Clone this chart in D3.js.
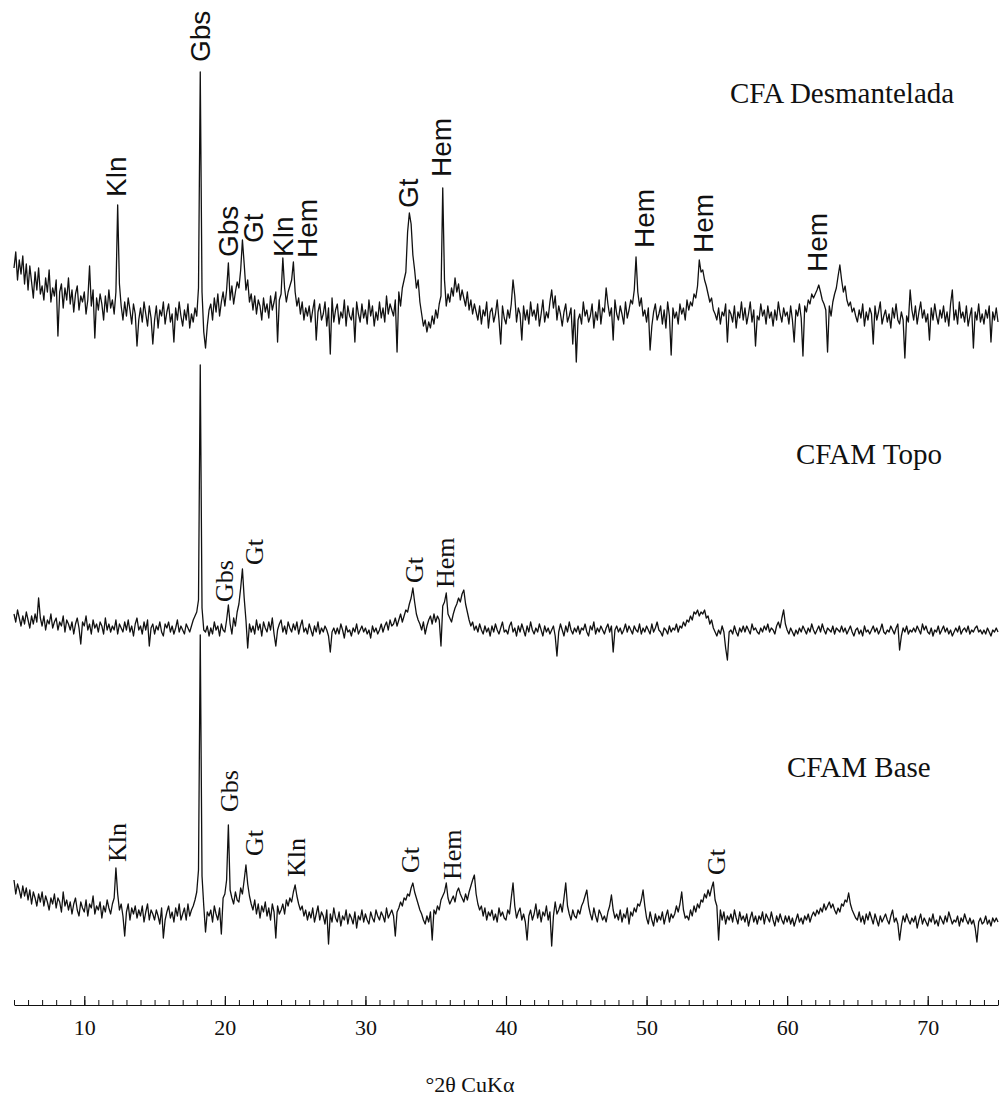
<!DOCTYPE html>
<html>
<head>
<meta charset="utf-8">
<script src="https://cdn.jsdelivr.net/npm/d3@7"></script>
<style>
  body { margin: 0; background: #fff; }
  .sans { font-family: "Liberation Sans", Arial, sans-serif; }
  .serif { font-family: "Liberation Serif", "Times New Roman", serif; }
</style>
</head>
<body>
<svg id="chart" width="1001" height="1104"></svg>
<script>
// 2θ grid (CuKα), 0.125° step from 5° to 75°
const twoTheta = d3.range(0, 561).map((i) => 5 + i * 0.125);

// intensities (a.u.) above each pattern's own zero, one row per degree (5°..74°, then 75°)
const desmantelada = [
  82, 98, 70, 90, 76, 94, 66, 86,
  60, 84, 68, 52, 78, 60, 82, 56,
  64, 50, 72, 58, 80, 48, 62, 54,
  70, 14, 58, 66, 42, 62, 50, 72,
  46, 60, 38, 56, 64, 40, 54, 48,
  58, 36, 50, 84, 44, 60, 12, 52,
  40, 56, 46, 30, 54, 38, 60, 42,
  50, 36, 58, 145, 66, 44, 30, 48,
  34, 52, 40, 26, 46, 36, 4, 30,
  42, 28, 48, 36, 24, 44, 32, 6,
  30, 44, 22, 40, 34, 48, 26, 38,
  46, 28, 36, 8, 42, 30, 48, 34,
  24, 40, 30, 46, 22, 36, 28, 42,
  34, 62, 278, 58, 18, 2, 24, 40,
  46, 30, 52, 38, 56, 34, 48, 58,
  44, 60, 87, 50, 64, 46, 58, 68,
  62, 80, 110, 86, 60, 70, 48, 56,
  40, 54, 36, 50, 44, 30, 52, 38,
  46, 32, 54, 40, 48, 58, 8, 50,
  56, 92, 62, 48, 58, 64, 70, 88,
  58, 44, 52, 36, 48, 30, 42, 34,
  44, 28, 40, 50, 10, 38, 46, 30,
  36, 48, 24, 42, -4, 52, 28, 40,
  46, 26, 38, 32, 50, 24, 44, 34,
  30, 42, 8, 48, 36, 28, 46, 32,
  40, 26, 50, 34, 44, 24, 38, 30,
  48, 32, 42, 28, 54, 36, 46, 40,
  34, 50, -2, 58, 44, 62, 70, 78,
  118, 137, 126, 95, 80, 62, 70, 48,
  36, 24, 30, 18, 28, 22, 34, 26,
  40, 32, 46, 54, 162, 70, 44, 56,
  48, 62, 54, 72, 58, 66, 50, 60,
  52, 44, 58, 40, 50, 36, 46, 38,
  30, 44, 26, 40, 34, 48, 22, 38,
  42, 28, 36, 50, 30, 6, 44, 32,
  26, 40, 32, 46, 70, 54, 28, 42,
  36, 10, 44, 30, 40, 26, 48, 34,
  40, 30, 46, 24, 36, 50, 28, 38,
  32, 48, 60, 42, 54, 30, 44, 36,
  24, 38, 46, 28, 34, 42, 6, 40,
  -12, 30, 36, 26, 48, 34, 40, 28,
  34, 46, 22, 38, 30, 50, 26, 42,
  38, 62, 46, 34, 42, 10, 50, 36,
  30, 44, 36, 26, 48, 32, 40, 50,
  46, 60, 93, 58, 44, 52, 34, 40,
  28, 42, 0, 24, 38, 46, 30, 36,
  44, 26, 40, 22, 48, 34, -5, 42,
  32, 38, 26, 46, 36, 42, 30, 50,
  40, 48, 44, 56, 52, 64, 90, 78,
  80, 70, 64, 56, 48, 52, 40, 36,
  30, 42, 26, 38, 34, 46, 8, 40,
  36, 28, 44, 22, 38, 32, 48, 30,
  42, 26, 36, 48, 28, 40, 4, 34,
  30, 46, 34, 40, 26, 44, 32, 38,
  24, 40, 30, 48, 36, 28, 42, 34,
  38, 26, 44, 30, 8, 40, 34, 46,
  32, -6, 44, 38, 50, 46, 56, 52,
  56, 60, 65, 58, 50, 46, 40, -2,
  44, 34, 48, 56, 62, 74, 85, 70,
  58, 64, 50, 44, 48, 38, 42, 34,
  28, 40, 32, 46, 24, 38, 30, 42,
  36, 6, 44, 30, 38, 48, 26, 34,
  40, 28, 36, 22, 42, 32, 46, 30,
  26, 38, 30, -8, 34, 28, 60, 40,
  30, 44, 26, 38, 48, 32, 40, 28,
  36, 10, 42, 30, 46, 34, 26, 40,
  32, 44, 28, 38, 24, 46, 60, 30,
  40, 26, 48, 32, 38, 28, 44, 24,
  34, 42, 2, 38, 30, 46, 28, 36,
  26, 40, 32, 44, 8, 38, 30, 42,
  28
];

const topo = [
  46, 38, 50, 42, 34, 44, 36, 48,
  40, 32, 44, 36, 46, 38, 62, 42,
  34, 44, 30, 40, 36, 46, 32, 38,
  42, 30, 38, 34, 44, 28, 40, 36,
  30, 38, 26, 36, 42, 32, 16, 38,
  34, 44, 30, 36, 26, 40, 32, 36,
  28, 38, 34, 26, 42, 30, 36, 28,
  34, 30, 40, 26, 36, 32, 28, 38,
  30, 40, 28, 34, 24, 36, 42, 30,
  34, 26, 38, 30, 40, 14, 32, 36,
  26, 34, 30, 38, 28, 24, 36, 32,
  38, 28, 34, 26, 32, 40, 28, 34,
  30, 26, 36, 32, 28, 34, 40, 44,
  48, 60, 295, 52, 30, 28, 34, 24,
  32, 26, 38, 30, 34, 24, 36, 30,
  28, 40, 55, 36, 26, 42, 34, 48,
  56, 72, 91, 62, 40, 12, 36, 28,
  34, 26, 40, 30, 36, 24, 38, 32,
  28, 38, 30, 42, 26, 14, 30, 36,
  40, 28, 34, 26, 38, 32, 28, 36,
  30, 38, 26, 34, 40, 28, 32, 26,
  36, 30, 24, 34, 28, 38, 26, 32,
  28, 34, 30, 24, 8, 28, 32, 26,
  32, 26, 36, 30, 22, 34, 28, 30,
  24, 32, 28, 36, 26, 30, 34, 28,
  32, 26, 30, 22, 34, 28, 32, 26,
  30, 36, 28, 34, 38, 30, 40, 34,
  36, 42, 34, 40, 46, 38, 44, 50,
  48, 56, 62, 72, 58, 46, 40, 36,
  30, 38, 26, 34, 40, 44, 36, 46,
  38, 44, 40, 14, 54, 58, 67, 46,
  42, 38, 46, 52, 56, 62, 58, 66,
  70, 56, 48, 40, 34, 38, 30, 34,
  28, 36, 30, 26, 34, 28, 32, 24,
  34, 28, 36, 30, 26, 32, 38, 28,
  30, 26, 34, 38, 28, 32, 24, 34,
  28, 36, 30, 24, 34, 28, 38, 30,
  26, 32, 28, 36, 30, 24, 34, 28,
  32, 26, 30, 34, 24, 4, 28, 36,
  30, 24, 34, 28, 38, 30, 26, 32,
  28, 34, 26, 32, 30, 36, 28, 24,
  34, 30, 38, 26, 32, 28, 34, 30,
  26, 32, 36, 28, 34, 8, 30, 34,
  28, 32, 26, 30, 36, 28, 34, 30,
  26, 34, 30, 28, 36, 26, 32, 28,
  34, 30, 26, 36, 28, 32, 38, 30,
  28, 24, 32, 30, 26, 34, 28, 32,
  30, 36, 28, 34, 32, 38, 34, 40,
  38, 44, 40, 48, 46, 50, 44, 48,
  46, 50, 42, 44, 36, 40, 32, 28,
  24, 30, 26, 34, 28, 12, 0, 28,
  30, 26, 34, 28, 24, 32, 28, 34,
  28, 34, 30, 26, 36, 30, 32, 28,
  26, 32, 28, 34, 30, 36, 28, 32,
  30, 26, 34, 38, 32, 42, 50, 36,
  30, 26, 32, 28, 24, 30, 26, 32,
  28, 34, 30, 26, 32, 28, 36, 30,
  26, 30, 34, 28, 36, 30, 26, 32,
  30, 28, 34, 26, 32, 30, 28, 34,
  28, 32, 26, 30, 34, 28, 24, 30,
  32, 26, 30, 24, 34, 28, 30, 26,
  30, 34, 28, 32, 26, 30, 36, 28,
  26, 30, 28, 34, 30, 26, 32, 36,
  10, 24, 32, 28, 34, 26, 30, 28,
  32, 28, 34, 30, 26, 36, 30, 34,
  28, 26, 32, 24, 30, 28, 34, 26,
  30, 34, 28, 32, 26, 30, 24, 28,
  32, 28, 34, 26, 30, 32, 28, 34,
  26, 30, 28, 32, 34, 28, 30, 26,
  30, 26, 32, 28, 24, 30, 28, 32,
  28
];

const base = [
  70, 56, 66, 60, 52, 64, 54, 62,
  50, 60, 46, 58, 52, 44, 56, 48,
  58, 44, 54, 48, 40, 52, 46, 56,
  42, 52, 48, 38, 58, 44, 50, 40,
  48, 36, 46, 52, 40, 34, 48, 42,
  38, 50, 34, 46, 42, 54, 36, 44,
  40, 48, 32, 44, 38, 50, 42, 36,
  46, 52, 82, 56, 40, 46, 34, 14,
  38, 46, 30, 42, 36, 44, 32, 40,
  34, 44, 28, 38, 46, 30, 40, 36,
  30, 40, 34, 26, 42, 12, 30, 38,
  44, 32, 38, 28, 42, 34, 46, 30,
  36, 42, 30, 46, 34, 40, 44, 50,
  58, 80, 315, 74, 44, 18, 38, 34,
  40, 28, 44, 36, 30, 42, 16, 52,
  56, 70, 125, 60, 52, 46, 58, 50,
  48, 62, 56, 70, 85, 66, 54, 46,
  40, 50, 36, 46, 32, 44, 38, 48,
  34, 42, 30, 46, 38, 12, 44, 36,
  40, 46, 36, 50, 44, 52, 48, 58,
  65, 54, 46, 40, 44, 34, 40, 30,
  38, 32, 42, 28, 36, 44, 30, 38,
  34, 26, 40, 6, 36, 28, 42, 32,
  28, 38, 24, 34, 30, 40, 26, 36,
  32, 26, 38, 22, 34, 30, 40, 28,
  36, 30, 26, 38, 32, 28, 40, 34,
  30, 38, 34, 28, 42, 32, 36, 40,
  34, 14, 38, 42, 48, 44, 52, 50,
  56, 54, 62, 67, 58, 52, 46, 40,
  36, 30, 26, 34, 28, 38, 10, 40,
  36, 44, 40, 50, 54, 58, 67, 52,
  46, 50, 54, 48, 58, 62, 56, 52,
  48, 56, 50, 58, 64, 70, 75, 56,
  46, 40, 44, 34, 42, 30, 38, 34,
  40, 30, 36, 28, 42, 34, 38, 32,
  30, 40, 36, 52, 67, 44, 32, 38,
  42, 30, 36, 28, 10, 34, 40, 30,
  36, 46, 32, 40, 28, 38, 34, 44,
  30, 38, 4, 34, 48, 36, 40, 46,
  38, 52, 67, 44, 36, 30, 40, 34,
  32, 40, 36, 44, 48, 54, 60, 44,
  36, 30, 42, 34, 28, 40, 36, 30,
  34, 28, 38, 44, 55, 40, 32, 36,
  30, 40, 28, 36, 32, 42, 26, 38,
  34, 42, 38, 46, 44, 50, 60, 44,
  32, 26, 38, 30, 24, 36, 28, 34,
  30, 38, 26, 34, 40, 28, 36, 32,
  36, 44, 38, 46, 58, 40, 32, 34,
  30, 40, 34, 44, 38, 46, 42, 50,
  48, 56, 52, 60, 54, 62, 68, 50,
  44, 10, 40, 30, 38, 26, 34, 30,
  36, 28, 40, 32, 26, 38, 30, 34,
  28, 36, 24, 32, 38, 28, 34, 26,
  34, 30, 38, 26, 36, 32, 28, 38,
  30, 24, 34, 28, 36, 30, 26, 34,
  28, 34, 26, 32, 24, 30, 36, 28,
  32, 26, 34, 30, 36, 28, 34, 38,
  34, 40, 36, 42, 38, 46, 40, 44,
  48, 42, 46, 40, 36, 42, 38, 46,
  44, 50, 48, 57, 46, 40, 36, 32,
  30, 38, 28, 34, 26, 36, 30, 38,
  32, 26, 36, 30, 24, 34, 28, 32,
  36, 30, 26, 34, 40, 28, 32, 26,
  10, 24, 34, 28, 36, 30, 26, 32,
  28, 34, 22, 30, 36, 26, 32, 28,
  24, 32, 28, 36, 26, 30, 24, 34,
  30, 26, 34, 28, 38, 32, 26, 30,
  28, 34, 24, 32, 28, 36, 30, 26,
  32, 26, 30, 22, 8, 28, 32, 26,
  28, 34, 26, 30, 24, 32, 28, 32,
  28
];

const seriesNames = ["CFA Desmantelada", "CFAM Topo", "CFAM Base"];

// phase labels: [2θ of label centre, name, height of label foot above pattern zero]
const desmanteladaPhases = [
  [12.28, "Kln", 153], [18.25, "Gbs", 288], [20.2, "Gbs", 93], [22.02, "Gt", 107],
  [24.11, "Kln", 93], [25.85, "Hem", 92], [33.0, "Gt", 142], [35.38, "Hem", 173],
  [49.8, "Hem", 102], [53.99, "Hem", 97], [62.14, "Hem", 78]
];
const topoPhases = [
  [19.99, "Gbs", 58], [22.12, "Gt", 95], [33.46, "Gt", 77], [35.66, "Hem", 72]
];
const basePhases = [
  [12.35, "Kln", 88], [20.31, "Gbs", 138], [22.09, "Gt", 94], [25.07, "Kln", 73],
  [33.17, "Gt", 77], [36.16, "Hem", 70], [54.99, "Gt", 75]
];

const xTicks = [10, 20, 30, 40, 50, 60, 70];

const svg = d3.select("#chart");

const x = d3.scaleLinear().domain([5, 75]).range([14, 998]);

// each pattern gets its own vertical scale (zero line in px)
const panels = [
  { values: desmantelada, zero: 350, phases: desmanteladaPhases, cls: "sans", fs: 28, half: 0.36,
    name: seriesNames[0], nameX: 730, nameY: 103 },
  { values: topo, zero: 660, phases: topoPhases, cls: "serif", fs: 26, half: 0.33,
    name: seriesNames[1], nameX: 796, nameY: 464 },
  { values: base, zero: 950, phases: basePhases, cls: "serif", fs: 26, half: 0.33,
    name: seriesNames[2], nameX: 787, nameY: 777 }
];

panels.forEach((p) => {
  const y = d3.scaleLinear().domain([0, 400]).range([p.zero, p.zero - 400]);
  const data = twoTheta.map((t, i) => ({ t: t, v: p.values[i] }));

  const line = d3.line()
    .x((d) => x(d.t))
    .y((d) => y(d.v));

  svg.append("path")
    .datum(data)
    .attr("d", line)
    .attr("fill", "none")
    .attr("stroke", "#111")
    .attr("stroke-width", 1.3)
    .attr("stroke-linejoin", "round");

  // rotated phase labels; the text baseline sits on the right side of the glyphs
  svg.selectAll(null)
    .data(p.phases)
    .enter()
    .append("text")
    .attr("class", p.cls)
    .attr("font-size", p.fs)
    .attr("fill", "#111")
    .attr("transform", (d) => `translate(${x(d[0]) + p.fs * p.half},${y(d[2])}) rotate(-90)`)
    .text((d) => d[1]);

  svg.append("text")
    .attr("class", "serif")
    .attr("font-size", 29)
    .attr("fill", "#111")
    .attr("x", p.nameX)
    .attr("y", p.nameY)
    .text(p.name);
});

// 2θ axis
const axisY = 1005;

svg.append("g")
  .attr("transform", `translate(0,${axisY})`)
  .call(d3.axisBottom(x).tickValues(d3.range(5, 76)).tickSize(-5).tickSizeOuter(0).tickFormat(""))
  .call((g) => g.select(".domain").attr("stroke", "#111").attr("stroke-width", 1.2))
  .call((g) => g.selectAll(".tick line").attr("stroke", "#111"));

svg.append("g")
  .attr("transform", `translate(0,${axisY})`)
  .call(d3.axisBottom(x).tickValues(xTicks).tickSize(-9).tickSizeOuter(0).tickPadding(14))
  .call((g) => g.select(".domain").remove())
  .call((g) => g.selectAll(".tick line").attr("stroke", "#111").attr("stroke-width", 1.2))
  .call((g) => g.selectAll(".tick text")
    .attr("class", "serif")
    .attr("font-size", 22)
    .attr("fill", "#111"));

svg.append("text")
  .attr("class", "serif")
  .attr("font-size", 22)
  .attr("fill", "#111")
  .attr("text-anchor", "middle")
  .attr("x", 470)
  .attr("y", 1092)
  .text("°2θ CuKα");
</script>
</body>
</html>
